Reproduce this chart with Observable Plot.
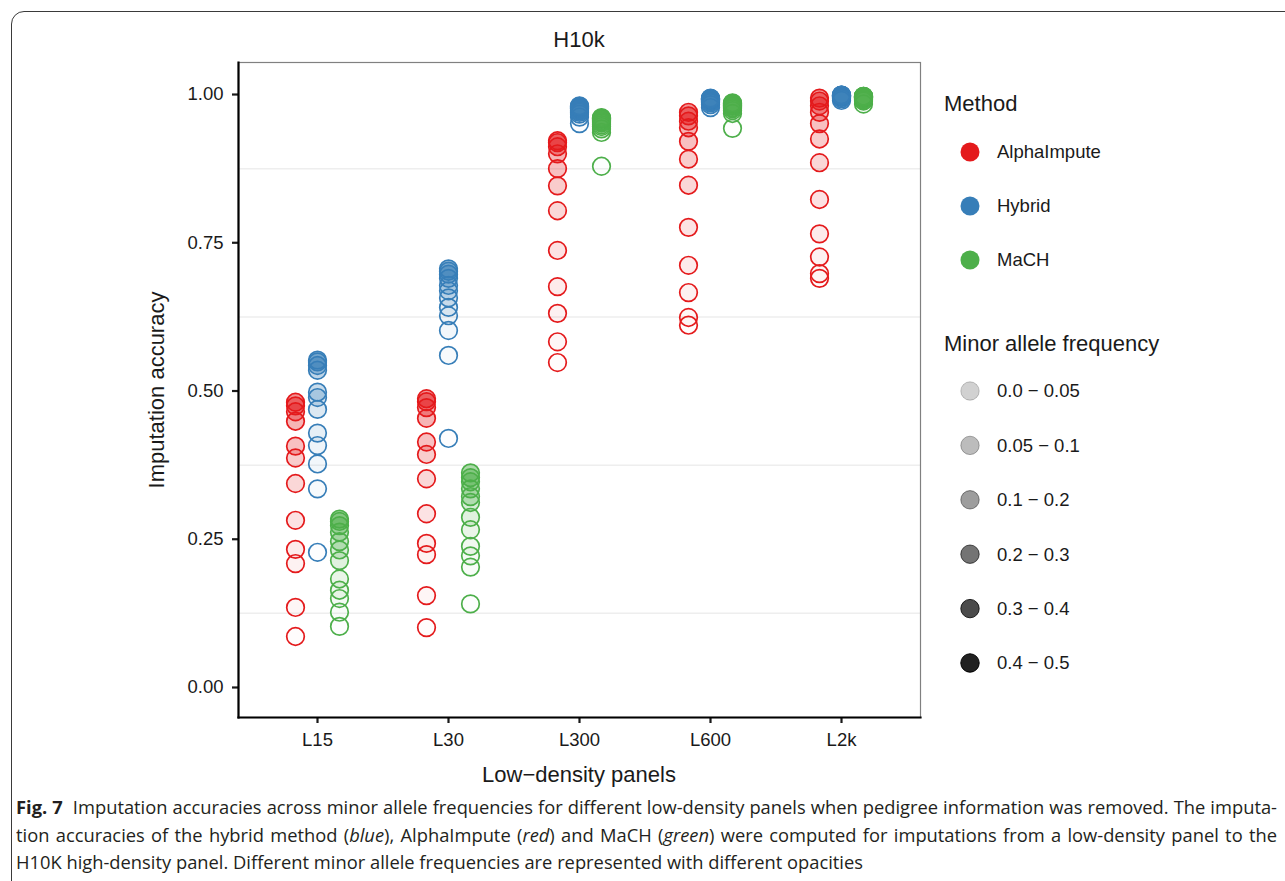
<!DOCTYPE html>
<html>
<head>
<meta charset="utf-8">
<script src="https://cdn.jsdelivr.net/npm/d3@7"></script>
<script src="https://cdn.jsdelivr.net/npm/@observablehq/plot@0.6"></script>
<style>
  html, body { margin: 0; padding: 0; background: #fff; }
  body { width: 1285px; height: 881px; position: relative; overflow: hidden; font-family: "Liberation Sans", Arial, sans-serif; color: #1a1a1a; }
  #card { position: absolute; left: 11px; top: 11px; width: 1300px; height: 900px; border: 1.3px solid #3a3a3a; border-radius: 13px; box-sizing: border-box; }
  #chart { position: absolute; left: 0; top: 0; }
  .t { position: absolute; white-space: nowrap; }
  #title { left: 579px; top: 40px; transform: translate(-50%, -50%); font-size: 22px; }
  #xlab { left: 579px; top: 775px; transform: translate(-50%, -50%); font-size: 22px; }
  #ylab { left: 157px; top: 390px; transform: translate(-50%, -50%) rotate(-90deg); font-size: 22px; }
  #legend { position: absolute; left: 0; top: 0; }
  #caption { position: absolute; left: 16px; top: 794px; font-family: "Open Sans", "Noto Sans", sans-serif; font-size: 18px; line-height: 27.5px; color: #231f20; transform-origin: 0 0; }
  #caption div { white-space: nowrap; }
  #caption .j { text-align: justify; text-align-last: justify; white-space: normal; }
  #caption b { font-weight: 700; }
</style>
</head>
<body>
<div id="card"></div>
<div id="chart"></div>
<div class="t" id="title">H10k</div>
<div class="t" id="xlab">Low−density panels</div>
<div class="t" id="ylab">Imputation accuracy</div>
<svg id="legend" width="1285" height="720"></svg>
<div id="caption">
  <div class="j"><b>Fig. 7</b>&nbsp; Imputation accuracies across minor allele frequencies for different low-density panels when pedigree information was removed. The imputa-</div>
  <div class="j">tion accuracies of the hybrid method (<i>blue</i>), AlphaImpute (<i>red</i>) and MaCH (<i>green</i>) were computed for imputations from a low-density panel to the</div>
  <div id="capLast"><span id="capLastSpan">H10K high-density panel. Different minor allele frequencies are represented with different opacities</span></div>
</div>
<script>
// ---- data ----
const panels = ["L15", "L30", "L300", "L600", "L2k"];
const methods = ["AlphaImpute", "Hybrid", "MaCH"];
const methodColors = ["#E41A1C", "#377EB8", "#4DAF4A"];
// minor allele frequency of each point (two per legend bin)
const maf = [0.0125, 0.0375, 0.0625, 0.0875, 0.125, 0.175, 0.225, 0.275, 0.325, 0.375, 0.425, 0.475];
const mafBins = ["0.0 − 0.05", "0.05 − 0.1", "0.1 − 0.2", "0.2 − 0.3", "0.3 − 0.4", "0.4 − 0.5"];
const mafBinMid = [0.025, 0.075, 0.15, 0.25, 0.35, 0.45];
const yTicks = [0, 0.25, 0.5, 0.75, 1];
const yMinorGrid = [0.125, 0.375, 0.625, 0.875];

// accuracy per panel (L15, L30, L300, L600, L2k), ordered by maf
const accAlphaImpute = [
  [0.086, 0.135, 0.209, 0.233, 0.282, 0.344, 0.387, 0.407, 0.449, 0.465, 0.475, 0.481],
  [0.101, 0.155, 0.224, 0.243, 0.293, 0.352, 0.393, 0.414, 0.454, 0.472, 0.482, 0.487],
  [0.548, 0.583, 0.631, 0.676, 0.737, 0.804, 0.846, 0.875, 0.900, 0.912, 0.919, 0.922],
  [0.611, 0.624, 0.666, 0.712, 0.776, 0.847, 0.891, 0.921, 0.944, 0.955, 0.964, 0.970],
  [0.690, 0.698, 0.726, 0.765, 0.823, 0.885, 0.925, 0.951, 0.970, 0.981, 0.989, 0.994]
];
const accHybrid = [
  [0.228, 0.335, 0.377, 0.408, 0.429, 0.469, 0.489, 0.498, 0.535, 0.543, 0.549, 0.552],
  [0.420, 0.560, 0.602, 0.627, 0.641, 0.657, 0.669, 0.678, 0.690, 0.697, 0.702, 0.706],
  [0.951, 0.962, 0.967, 0.970, 0.972, 0.974, 0.976, 0.977, 0.978, 0.979, 0.980, 0.981],
  [0.978, 0.983, 0.986, 0.988, 0.989, 0.990, 0.991, 0.992, 0.992, 0.993, 0.993, 0.994],
  [0.990, 0.993, 0.995, 0.996, 0.997, 0.997, 0.998, 0.998, 0.998, 0.999, 0.999, 0.999]
];
const accMaCH = [
  [0.103, 0.127, 0.150, 0.164, 0.183, 0.214, 0.232, 0.246, 0.262, 0.273, 0.280, 0.284],
  [0.141, 0.203, 0.222, 0.238, 0.266, 0.287, 0.312, 0.322, 0.335, 0.347, 0.354, 0.362],
  [0.879, 0.936, 0.942, 0.946, 0.949, 0.952, 0.954, 0.956, 0.958, 0.959, 0.960, 0.961],
  [0.943, 0.968, 0.973, 0.976, 0.978, 0.980, 0.981, 0.982, 0.983, 0.984, 0.985, 0.986],
  [0.984, 0.989, 0.991, 0.993, 0.994, 0.995, 0.995, 0.996, 0.996, 0.997, 0.997, 0.997]
];

// ---- table built from the arrays ----
const accByMethod = [accAlphaImpute, accHybrid, accMaCH];
const rows = [];
methods.forEach((m, k) => panels.forEach((p, j) => accByMethod[k][j].forEach((a, i) => {
  rows.push({ method: m, panel: p, acc: a, maf: maf[i] });
})));

const dodge = [-22, 0, 22];

const plot = Plot.plot({
  width: 1285,
  height: 790,
  marginLeft: 238,
  marginRight: 365,
  marginTop: 62,
  marginBottom: 73,
  style: { fontFamily: "'Liberation Sans', Arial, sans-serif", fontSize: "18.5px", color: "#1a1a1a", background: "transparent", overflow: "visible" },
  x: { type: "point", domain: panels, padding: 0.6, label: null },
  y: { domain: [-0.0506, 1.054], label: null },
  opacity: { type: "linear", domain: [0, 0.5], range: [0.14, 0.95] },
  marks: [
    Plot.ruleY(yMinorGrid, { stroke: "#eeeeee", strokeWidth: 1.5 }),
    Plot.frame({ stroke: "#808080", strokeWidth: 1.2 }),
    ...methods.map((m, k) => Plot.dot(rows.filter(d => d.method === m), {
      x: "panel", y: "acc", dx: dodge[k], r: 8.8,
      fill: methodColors[k], fillOpacity: "maf",
      stroke: methodColors[k], strokeWidth: 1.7
    })),
    Plot.axisY({ ticks: yTicks, tickFormat: d3.format(".2f"), tickSize: 6, tickPadding: 9, strokeWidth: 2.2, label: null, fontSize: 18.5 }),
    Plot.axisX({ tickSize: 6, tickPadding: 9, strokeWidth: 2.2, label: null, fontSize: 18.5 }),
    Plot.frame({ anchor: "left", stroke: "#000", strokeWidth: 2.2 }),
    Plot.frame({ anchor: "bottom", stroke: "#000", strokeWidth: 2.2 })
  ]
});
document.getElementById("chart").appendChild(plot);

// ---- legends ----
const op = plot.scale("opacity");
const opScale = d3.scaleLinear().domain(op.domain).range(op.range);
const lg = d3.select("#legend");
const txt = (x, y, s, size) => lg.append("text").attr("x", x).attr("y", y).attr("dy", "0.35em")
  .attr("font-family", "'Liberation Sans', Arial, sans-serif").attr("font-size", size).attr("fill", "#1a1a1a").text(s);
txt(944, 103, "Method", 22);
methods.forEach((m, k) => {
  const y = 152 + k * 54;
  lg.append("circle").attr("cx", 970).attr("cy", y).attr("r", 9.5).attr("fill", methodColors[k]);
  txt(997, y, m, 18.5);
});
txt(944, 343, "Minor allele frequency", 22);
mafBins.forEach((b, i) => {
  const y = 391 + i * 54.4;
  const a = opScale(mafBinMid[i]);
  lg.append("circle").attr("cx", 970).attr("cy", y).attr("r", 9.2)
    .attr("fill", "#000").attr("fill-opacity", a)
    .attr("stroke", "#000").attr("stroke-opacity", Math.min(1, a * 1.15)).attr("stroke-width", 1);
  txt(997, y, b, 18.5);
});

// ---- caption: condense the humanist font to the reference line length ----
const cap = document.getElementById("caption");
const lastW = document.getElementById("capLastSpan").getBoundingClientRect().width;
const s = 847 / lastW;
cap.style.width = (1261 / s) + "px";
cap.style.transform = `scaleX(${s})`;
</script>
</body>
</html>
